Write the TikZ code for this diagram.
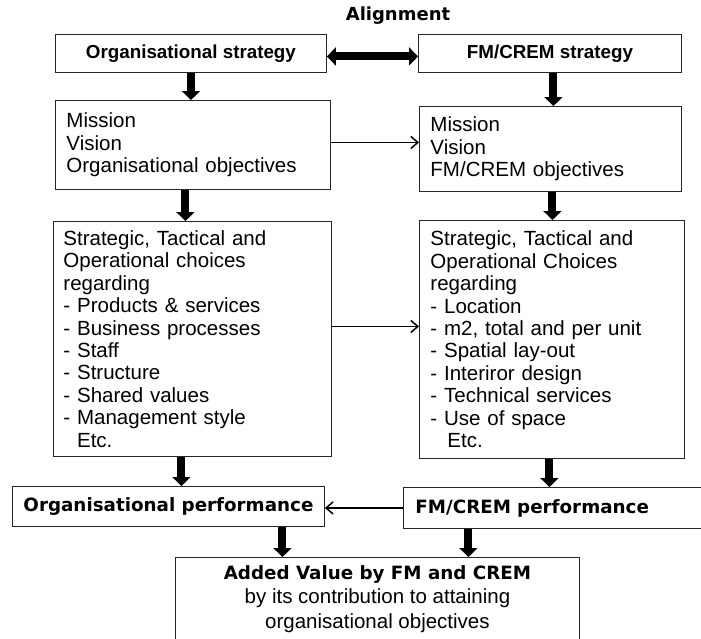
\documentclass[tikz,border=0pt]{standalone}
\usepackage{fontspec}
\setmainfont{Liberation Sans}
\newfontfamily\verdana{DejaVu Sans}
\usepackage{tikz}
\usetikzlibrary{arrows.meta}

\begin{document}
\begin{tikzpicture}[
            x = 1pt, y = -1pt, % pixel grid, y pointing down
            > = {Straight Barb[length=7pt,width=12pt]}, % thin arrow head
            semithick % line style
        ]

        \tikzstyle{box}=[
            draw = black!85,
            line width = 0.9pt,
            anchor = north west,
            inner sep = 0pt
        ]
        \tikzstyle{txt}=[font=\fontsize{20.5}{22.4}\selectfont]
        \tikzstyle{boldtxt}=[font=\bfseries\fontsize{18.8}{22}\selectfont]
        \tikzstyle{vbold}=[font=\verdana\bfseries\fontsize{18.3}{22}\selectfont]
        \tikzstyle{fat}=[line width=8pt, -{Triangle[width=18pt,length=9pt]}]
        \tikzstyle{fatboth}=[line width=8pt, {Triangle[width=18pt,length=9pt]}-{Triangle[width=18pt,length=9pt]}]
        \tikzstyle{link}=[line width=1.5pt, ->]

        \path[use as bounding box, clip] (0,0) rectangle (701,638);

        \node[vbold, font=\verdana\bfseries\fontsize{18}{22}\selectfont] (AL) at (398,16) {Alignment};

        \node[box, boldtxt, minimum width=271pt, minimum height=38pt] (OS) at (55,34) {Organisational strategy};
        \node[box, boldtxt, minimum width=263pt, minimum height=38pt] (FS) at (418,34) {FM/CREM strategy};

        \node[box, txt, align=left, inner xsep=11pt, text width=253pt, minimum height=89pt] (OM) at (55,100)
            {Mission\\Vision\\Organisational objectives};
        \node[box, txt, align=left, inner xsep=11pt, text width=240pt, minimum height=85pt] (FM) at (419,106)
            {Mission\\Vision\\FM/CREM objectives};

        \node[box, txt, align=left, inner xsep=10pt, text width=258pt, minimum height=235pt] (OC) at (53,221)
            {Strategic, Tactical and\\Operational choices\\regarding\\- Products \& services\\- Business processes\\- Staff\\- Structure\\- Shared values\\- Management style\\\phantom{- }Etc.};
        \node[box, txt, align=left, inner xsep=11pt, text width=243pt, minimum height=238pt] (FC) at (419,220)
            {Strategic, Tactical and\\Operational Choices\\regarding\\- Location\\- m2, total and per unit\\- Spatial lay-out\\- Interiror design\\- Technical services\\- Use of space\\\hspace*{17pt}Etc.};

        \node[box, vbold, minimum width=312pt, minimum height=40pt] (OP) at (12,486) {Organisational performance};
        \node[box, vbold, align=left, inner xsep=12pt, text width=286pt, minimum height=41pt] (FP) at (403,487) {FM/CREM performance};

        \node[box, align=center, minimum width=404pt, minimum height=83pt, font=\fontsize{20.5}{24.5}\selectfont] (AV) at (175,557)
            {{\verdana\bfseries\fontsize{18.3}{24.5}\selectfont Added Value by FM and CREM}\\by its contribution to attaining\\organisational objectives};

        \draw[fatboth] ([yshift=-3pt]OS.east) -- ([yshift=-3pt]OS.east -| FS.west);

        \draw[fat] (OS.south) -- (OS.south |- OM.north);
        \draw[fat] ([xshift=3.5pt]FS.south) -- ([xshift=3.5pt]FS.south |- FM.north);
        \draw[fat] ([xshift=-7.5pt]OM.south) -- ([xshift=-7.5pt]OM.south |- OC.north);
        \draw[fat] ([xshift=2pt]FM.south) -- ([xshift=2pt]FM.south |- FC.north);
        \draw[fat] ([xshift=-11pt]OC.south) -- ([xshift=-11pt]OC.south |- OP.north);
        \draw[fat] ([xshift=-2.5pt]FC.south) -- ([xshift=-2.5pt]FC.south |- FP.north);
        \draw[fat] ([xshift=-95pt]AV.north |- OP.south) -- ([xshift=-95pt]AV.north);
        \draw[fat] ([xshift=91pt]AV.north |- FP.south) -- ([xshift=91pt]AV.north);

        \path[link] ([yshift=2.5pt]OM.east) edge ([yshift=2.5pt]OM.east -| FM.west);
        \path[link] ([yshift=12.5pt]OC.east) edge ([yshift=12.5pt]OC.east -| FC.west);
        \path[link] (FP.west) edge (FP.west -| OP.east);
    \end{tikzpicture}
\end{document}
